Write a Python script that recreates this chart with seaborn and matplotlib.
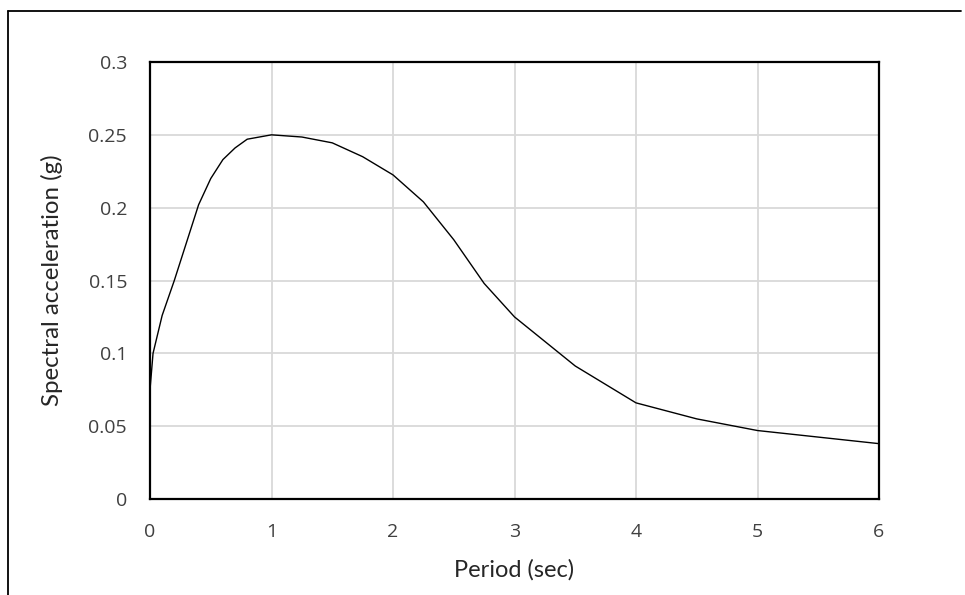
import pandas as pd
import matplotlib.pyplot as plt
import seaborn as sns
from matplotlib.lines import Line2D

# Response spectrum values
period = [0.0, 0.025, 0.1, 0.2, 0.4, 0.5, 0.6, 0.7, 0.8, 1.0, 1.25, 1.5,
          1.75, 2.0, 2.25, 2.5, 2.75, 3.0, 3.5, 4.0, 4.5, 5.0, 6.0]
sa = [0.075, 0.100, 0.126, 0.150, 0.202, 0.220, 0.233, 0.241, 0.247, 0.250, 0.2485, 0.2445,
      0.235, 0.2225, 0.204, 0.178, 0.148, 0.125, 0.0913, 0.066, 0.055, 0.047, 0.038]

x_ticks = [0, 1, 2, 3, 4, 5, 6]
y_ticks = [0, 0.05, 0.1, 0.15, 0.2, 0.25, 0.3]
y_tick_labels = ["0", "0.05", "0.1", "0.15", "0.2", "0.25", "0.3"]

df = pd.DataFrame({"Period": period, "Sa": sa})

sns.set_style("white")
plt.rcParams['font.family'] = ['Open Sans', 'DejaVu Sans']

fig = plt.figure(figsize=(9.65, 5.95), dpi=100)
ax = fig.add_axes([150 / 965, 1 - 499 / 595, (879 - 150) / 965, (499 - 62) / 595])

sns.lineplot(data=df, x="Period", y="Sa", ax=ax, color="black", linewidth=1.0)

ax.set_xlim(0, 6)
ax.set_ylim(0, 0.3)
ax.set_xticks(x_ticks)
ax.set_xticklabels([str(t) for t in x_ticks])
ax.set_yticks(y_ticks)
ax.set_yticklabels(y_tick_labels)
ax.grid(True, color="#d9d9d9", linewidth=1.3)
ax.set_axisbelow(True)
for s in ax.spines.values():
    s.set_color("black")
    s.set_linewidth(1.6)
    s.set_visible(True)
ax.tick_params(axis="both", length=0, labelsize=14, labelcolor="#404040")
ax.tick_params(axis="x", pad=17)
ax.tick_params(axis="y", pad=16.5)

ax.set_xlabel("Period (sec)", fontsize=17, family=["Lato", "DejaVu Sans"])
ax.set_ylabel("Spectral acceleration (g)", fontsize=17.3, family=["Lato", "DejaVu Sans"])
ax.xaxis.set_label_coords(0.5, -0.137)
ax.yaxis.set_label_coords(-0.119, 0.5)

# page frame from the source document
fig.add_artist(Line2D([8 / 965, 8 / 965], [0, 1 - 11 / 595], color="black", linewidth=1.3,
                      transform=fig.transFigure))
fig.add_artist(Line2D([8 / 965, 961 / 965], [1 - 11 / 595, 1 - 11 / 595], color="black",
                      linewidth=1.3, transform=fig.transFigure))

fig.savefig("out.png", dpi=100)
